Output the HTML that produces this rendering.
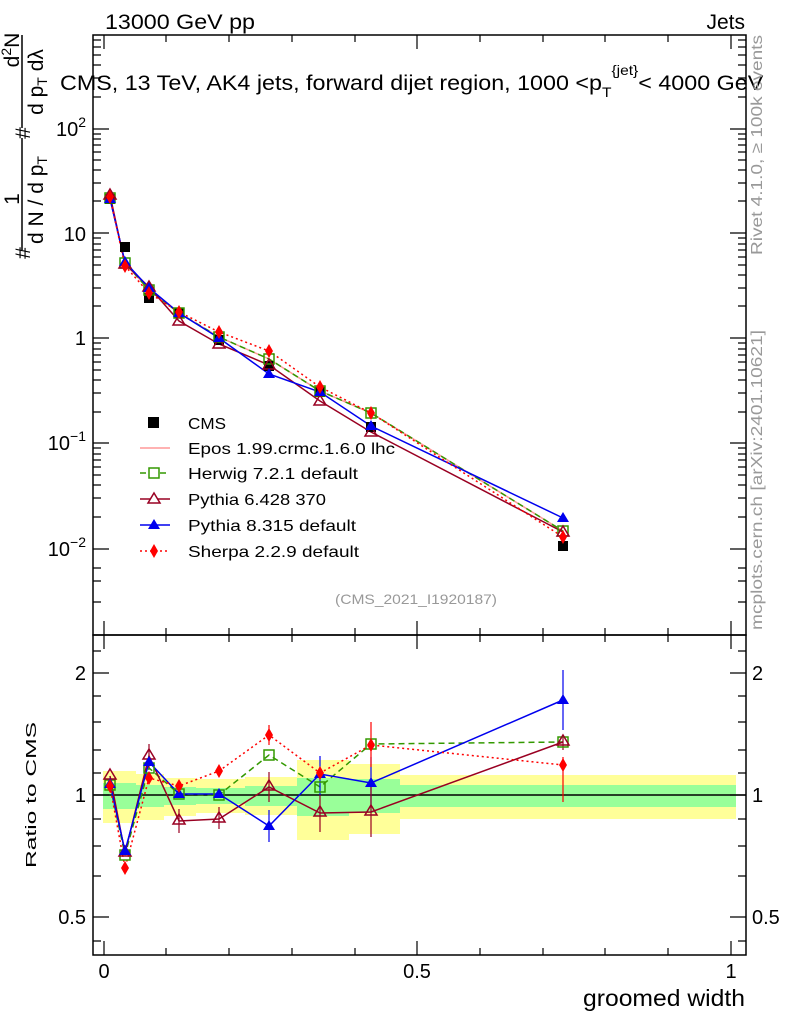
<!DOCTYPE html><html><head><style>body{margin:0;background:#fff}svg{display:block;font-family:"Liberation Sans",sans-serif}</style></head><body>
<svg width="786" height="1024" viewBox="0 0 786 1024" xmlns="http://www.w3.org/2000/svg">
<text x="105" y="29" font-size="21" textLength="150" lengthAdjust="spacingAndGlyphs">13000 GeV pp</text>
<text x="745" y="29" font-size="21" text-anchor="end">Jets</text>
<g fill="#ffff99">
<rect x="103" y="771" width="33" height="52"/><rect x="136" y="774" width="28" height="46"/><rect x="164" y="778" width="32" height="38"/><rect x="196" y="779" width="49" height="34"/><rect x="245" y="777" width="52" height="38"/><rect x="297" y="760" width="52" height="80"/><rect x="349" y="764" width="51" height="70"/><rect x="400" y="775" width="336" height="44"/></g>
<g fill="#99ff99">
<rect x="103" y="783" width="33" height="26"/><rect x="136" y="785" width="28" height="22"/><rect x="164" y="787" width="32" height="18"/><rect x="196" y="788" width="49" height="16"/><rect x="245" y="786" width="52" height="20"/><rect x="297" y="778" width="52" height="38"/><rect x="349" y="779" width="51" height="34"/><rect x="400" y="785" width="336" height="22"/></g>
<line x1="93" y1="795" x2="746" y2="795" stroke="#000" stroke-width="1.5"/>
<rect x="93" y="35" width="653" height="600" fill="none" stroke="#000" stroke-width="1.5"/>
<rect x="93" y="635" width="653" height="320" fill="none" stroke="#000" stroke-width="1.5"/>
<g stroke="#000" stroke-width="1.2">
<path d="M104,955v-14M104,635v14M104,635v-14M417,955v-14M417,635v14M417,635v-14M731,955v-14M731,635v14M731,635v-14M417,35v14M731,35v14M104,35v14
M166,955v-7M229,955v-7M292,955v-7M355,955v-7M480,955v-7M543,955v-7M605,955v-7M668,955v-7
M166,635v-7M229,635v-7M292,635v-7M355,635v-7M480,635v-7M543,635v-7M605,635v-7M668,635v-7
M166,35v7M229,35v7M292,35v7M355,35v7M480,35v7M543,35v7M605,35v7M668,35v7
M166,635v7M229,635v7M292,635v7M355,635v7M480,635v7M543,635v7M605,635v7M668,635v7"/>
<path d="M93,129h16M93,233h16M93,338h16M93,443h16M93,549h16M746,129h-16M746,233h-16M746,338h-16M746,443h-16M746,549h-16"/>
<path id="minor" d="M93,602h8M93,581h8M93,568h8M93,517h8M93,498h8M93,485h8M93,475h8M93,467h8M93,460h8M93,454h8M93,448h8M93,412h8M93,393h8M93,380h8M93,370h8M93,362h8M93,355h8M93,349h8M93,343h8M93,306h8M93,288h8M93,275h8M93,265h8M93,257h8M93,250h8M93,244h8M93,238h8M93,201h8M93,183h8M93,170h8M93,160h8M93,152h8M93,145h8M93,139h8M93,134h8M93,97h8M93,78h8M93,65h8M93,55h8M93,47h8M93,40h8"/>
<use href="#minor" transform="translate(839,0) scale(-1,1)"/>
<path d="M93,673h16M93,795h16M93,917h16M746,673h-16M746,795h-16M746,917h-16
M93,651h8M93,696h8M93,722h8M93,750h8M93,773h8M93,819h8M93,846h8M93,876h8M93,941h8
M746,651h-8M746,696h-8M746,722h-8M746,750h-8M746,773h-8M746,819h-8M746,846h-8M746,876h-8M746,941h-8"/>
</g>
<g font-size="20" text-anchor="end">
<text x="86" y="136">10<tspan font-size="14" dy="-9">2</tspan></text>
<text x="86" y="241">10</text><text x="86" y="345">1</text>
<text x="86" y="450">10<tspan font-size="14" dy="-9">−1</tspan></text>
<text x="86" y="556">10<tspan font-size="14" dy="-9">−2</tspan></text>
<text x="86" y="680">2</text><text x="86" y="802">1</text><text x="86" y="924">0.5</text>
</g>
<g font-size="20"><text x="752" y="680">2</text><text x="752" y="802">1</text><text x="752" y="924">0.5</text></g>
<g font-size="20" text-anchor="middle"><text x="104" y="978">0</text><text x="417" y="978">0.5</text><text x="731" y="978">1</text></g>
<text x="583" y="1006" font-size="23" textLength="162" lengthAdjust="spacingAndGlyphs">groomed width</text>
<text transform="translate(36,868) rotate(-90)" font-size="15" textLength="146" lengthAdjust="spacingAndGlyphs">Ratio to CMS</text>
<g transform="rotate(-90)" font-size="21" text-anchor="middle">
<text x="-253" y="30">#</text>
<line x1="-250" y1="22" x2="-138" y2="22" stroke="#000" stroke-width="1.5"/>
<text x="-199" y="19">1</text>
<text x="-200" y="43">d N / d p<tspan font-size="14" dy="4">T</tspan></text>
<text x="-133" y="30">#</text>
<line x1="-128" y1="22" x2="-35" y2="22" stroke="#000" stroke-width="1.5"/>
<text x="-50" y="19">d<tspan font-size="14" dy="-8">2</tspan><tspan dy="8">N</tspan></text>
<text x="-82" y="43">d p<tspan font-size="14" dy="4">T</tspan><tspan dy="-4"> dλ</tspan></text>
</g>
<text transform="translate(60,90) scale(1.11,1)" font-size="21">CMS, 13 TeV, AK4 jets, forward dijet region, 1000 &lt;p<tspan font-size="14" dy="7">T</tspan><tspan font-size="14" dy="-22">{jet}</tspan><tspan dy="15">&lt; 4000 GeV</tspan></text>
<g fill="#999" font-size="16">
<text transform="translate(762,255) rotate(-90)" textLength="220" lengthAdjust="spacingAndGlyphs">Rivet 4.1.0, ≥ 100k events</text>
<text transform="translate(762,630) rotate(-90)" textLength="300" lengthAdjust="spacingAndGlyphs">mcplots.cern.ch [arXiv:2401.10621]</text>
<text x="335" y="604" font-size="14" textLength="162" lengthAdjust="spacingAndGlyphs">(CMS_2021_I1920187)</text>
</g>
<g fill="none" stroke-width="1.5">
<polyline stroke="#ff9999" points="110,198 125,263 149,290 179,313 219,337 269,359 320,391 371,413 563,531"/>
<polyline stroke="#339900" stroke-dasharray="6,4" points="110,198 125,263 149,290 179,313 219,337 269,359 320,391 371,413 563,531"/>
<polyline stroke="#990022" points="110,195 125,264 149,287 179,321 219,344 269,365 320,401 371,432 563,532"/>
<polyline stroke="#0000ee" points="110,199 125,262 149,288 179,313 219,338 269,374 320,392 371,426 563,518"/>
<polyline stroke="#ff0000" stroke-dasharray="2,3" points="110,197 125,266 149,293 179,312 219,332 269,351 320,387 371,413 563,537"/>
</g>
<g fill="#000"><rect x="105" y="194" width="10" height="10"/><rect x="120" y="242" width="10" height="10"/><rect x="144" y="293" width="10" height="10"/><rect x="174" y="308" width="10" height="10"/><rect x="214" y="335" width="10" height="10"/><rect x="264" y="361" width="10" height="10"/><rect x="315" y="387" width="10" height="10"/><rect x="366" y="422" width="10" height="10"/><rect x="558" y="541" width="10" height="10"/></g>
<g fill="none" stroke="#339900" stroke-width="1.5"><rect x="105" y="193" width="10" height="10"/><rect x="120" y="258" width="10" height="10"/><rect x="144" y="285" width="10" height="10"/><rect x="174" y="308" width="10" height="10"/><rect x="214" y="332" width="10" height="10"/><rect x="264" y="354" width="10" height="10"/><rect x="315" y="386" width="10" height="10"/><rect x="366" y="408" width="10" height="10"/><rect x="558" y="526" width="10" height="10"/></g>
<g fill="none" stroke="#990022" stroke-width="1.5"><path d="M110,189l6,10h-12zM125,258l6,10h-12zM149,281l6,10h-12zM179,315l6,10h-12zM219,338l6,10h-12zM269,359l6,10h-12zM320,395l6,10h-12zM371,426l6,10h-12zM563,526l6,10h-12z"/></g>
<g fill="#0000ee"><path d="M110,193l6,10h-12zM125,256l6,10h-12zM149,282l6,10h-12zM179,307l6,10h-12zM219,332l6,10h-12zM269,368l6,10h-12zM320,386l6,10h-12zM371,420l6,10h-12zM563,512l6,10h-12z"/></g>
<g fill="#ff0000"><path d="M110,190l4,7l-4,7l-4,-7zM125,259l4,7l-4,7l-4,-7zM149,286l4,7l-4,7l-4,-7zM179,305l4,7l-4,7l-4,-7zM219,325l4,7l-4,7l-4,-7zM269,344l4,7l-4,7l-4,-7zM320,380l4,7l-4,7l-4,-7zM371,406l4,7l-4,7l-4,-7zM563,530l4,7l-4,7l-4,-7z"/></g>
<g font-size="16">
<rect x="148" y="417" width="11" height="11"/><text x="188" y="429" textLength="38" lengthAdjust="spacingAndGlyphs">CMS</text>
<line x1="140" y1="448" x2="170" y2="448" stroke="#ff9999" stroke-width="1.5"/><text x="188" y="454" textLength="207" lengthAdjust="spacingAndGlyphs">Epos 1.99.crmc.1.6.0 lhc</text>
<line x1="140" y1="473" x2="170" y2="473" stroke="#339900" stroke-width="1.5" stroke-dasharray="6,4"/><rect x="149" y="468" width="10" height="10" fill="#fff" stroke="#339900" stroke-width="1.5"/><text x="188" y="479" textLength="170" lengthAdjust="spacingAndGlyphs">Herwig 7.2.1 default</text>
<line x1="140" y1="499" x2="170" y2="499" stroke="#990022" stroke-width="1.5"/><path d="M154,493l6,10h-12z" fill="#fff" stroke="#990022" stroke-width="1.5"/><text x="188" y="505" textLength="138" lengthAdjust="spacingAndGlyphs">Pythia 6.428 370</text>
<line x1="140" y1="525" x2="170" y2="525" stroke="#0000ee" stroke-width="1.5"/><path d="M154,519l6,10h-12z" fill="#0000ee"/><text x="188" y="531" textLength="168" lengthAdjust="spacingAndGlyphs">Pythia 8.315 default</text>
<line x1="140" y1="551" x2="170" y2="551" stroke="#ff0000" stroke-width="1.5" stroke-dasharray="2,3"/><path d="M154,544l4,7l-4,7l-4,-7z" fill="#ff0000"/><text x="188" y="557" textLength="171" lengthAdjust="spacingAndGlyphs">Sherpa 2.2.9 default</text>
</g>
<g fill="none" stroke-width="1.5">
<polyline stroke="#339900" stroke-dasharray="6,4" points="110,785 125,855 149,768 179,794 219,795 269,755 320,787 371,744 563,742"/>
<polyline stroke="#990022" points="110,776 125,853 149,756 179,821 219,819 269,787 320,813 371,812 563,742"/>
<polyline stroke="#0000ee" points="110,784 125,851 149,762 179,794 219,794 269,826 320,774 371,783 563,700"/>
<polyline stroke="#ff0000" stroke-dasharray="2,3" points="110,786 125,868 149,778 179,786 219,771 269,735 320,773 371,745 563,765"/>
</g>
<g stroke-width="1.2">
<path stroke="#0000ee" d="M563,670v60M371,757v50M269,810v32M320,756v40"/>
<path stroke="#990022" d="M149,744v24M179,809v24M219,807v22M269,772v30M320,795v37M371,787v50M563,735v15"/>
<path stroke="#ff0000" d="M269,725v20M371,722v45M563,757v45"/>
</g>
<g fill="none" stroke="#339900" stroke-width="1.5"><rect x="105" y="780" width="10" height="10"/><rect x="120" y="850" width="10" height="10"/><rect x="144" y="763" width="10" height="10"/><rect x="174" y="789" width="10" height="10"/><rect x="214" y="790" width="10" height="10"/><rect x="264" y="750" width="10" height="10"/><rect x="315" y="782" width="10" height="10"/><rect x="366" y="739" width="10" height="10"/><rect x="558" y="737" width="10" height="10"/></g>
<g fill="none" stroke="#990022" stroke-width="1.5"><path d="M110,769l6,10h-12zM125,846l6,10h-12zM149,749l6,10h-12zM179,814l6,10h-12zM219,812l6,10h-12zM269,780l6,10h-12zM320,806l6,10h-12zM371,805l6,10h-12zM563,735l6,10h-12z"/></g>
<g fill="#0000ee"><path d="M110,778l6,10h-12zM125,845l6,10h-12zM149,756l6,10h-12zM179,788l6,10h-12zM219,788l6,10h-12zM269,820l6,10h-12zM320,768l6,10h-12zM371,777l6,10h-12zM563,694l6,10h-12z"/></g>
<g fill="#ff0000"><path d="M110,779l4,7l-4,7l-4,-7zM125,861l4,7l-4,7l-4,-7zM149,771l4,7l-4,7l-4,-7zM179,779l4,7l-4,7l-4,-7zM219,764l4,7l-4,7l-4,-7zM269,728l4,7l-4,7l-4,-7zM320,766l4,7l-4,7l-4,-7zM371,738l4,7l-4,7l-4,-7zM563,758l4,7l-4,7l-4,-7z"/></g>
</svg>
</body></html>
